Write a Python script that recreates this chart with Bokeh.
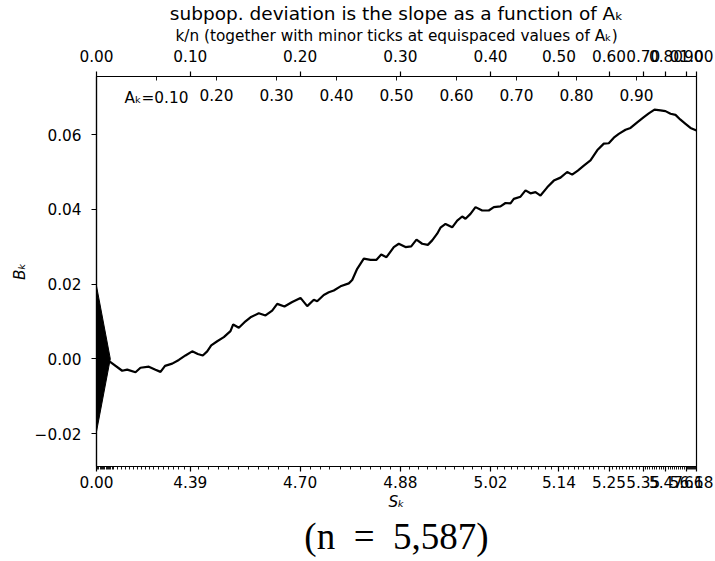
from bokeh.plotting import figure
from bokeh.models import Range1d, LinearAxis, FixedTicker, Title, CustomJSTickFormatter
from bokeh.core.properties import value
from bokeh.embed import file_html
from bokeh.resources import INLINE

# ---- data ----
# curve: A_k (abscissa) and B_k (ordinate)
curve_a = [0.0, 0.0233, 0.0428, 0.0512, 0.065, 0.0733, 0.0872, 0.0983, 0.1067, 0.1142,
           0.1262, 0.1372, 0.1483, 0.1595, 0.1688, 0.1772, 0.1845, 0.1912, 0.2012, 0.2122,
           0.2233, 0.2278, 0.2372, 0.2467, 0.2567, 0.2705, 0.2817, 0.2928, 0.3012, 0.3133,
           0.3262, 0.34, 0.3512, 0.3622, 0.3678, 0.3788, 0.3872, 0.3955, 0.4067, 0.4205,
           0.4262, 0.4345, 0.4455, 0.4567, 0.4667, 0.4745, 0.4833, 0.4955, 0.5038, 0.515,
           0.5245, 0.5333, 0.5428, 0.5522, 0.5595, 0.5678, 0.5733, 0.5817, 0.5928, 0.6012,
           0.6095, 0.615, 0.6233, 0.6317, 0.6428, 0.6538, 0.6622, 0.6733, 0.6817, 0.69,
           0.6955, 0.7067, 0.715, 0.7233, 0.7317, 0.74, 0.7512, 0.7622, 0.7733, 0.7845,
           0.7928, 0.8022, 0.8122, 0.8233, 0.8345, 0.8455, 0.8538, 0.8622, 0.8705, 0.8817,
           0.89, 0.9012, 0.9122, 0.9205, 0.93, 0.94, 0.9483, 0.9567, 0.965, 0.9733,
           0.9817, 0.99, 1.0]
curve_b = [0.0, -0.0009, -0.0032, -0.0029, -0.0036, -0.0024, -0.0021, -0.0029, -0.0035, -0.0019,
           -0.0013, -0.0003, 0.0009, 0.0020, 0.0013, 0.0009, 0.0020, 0.0036, 0.0047, 0.0058,
           0.0074, 0.0092, 0.0083, 0.0098, 0.0111, 0.0122, 0.0116, 0.0129, 0.0147, 0.0140,
           0.0152, 0.0163, 0.0141, 0.0158, 0.0154, 0.0171, 0.0178, 0.0183, 0.0194, 0.0202,
           0.0211, 0.0241, 0.0268, 0.0265, 0.0265, 0.0279, 0.0272, 0.0299, 0.0308, 0.0299,
           0.0301, 0.0319, 0.0308, 0.0305, 0.0317, 0.0335, 0.0351, 0.0361, 0.0352, 0.0370,
           0.0381, 0.0375, 0.0388, 0.0406, 0.0397, 0.0397, 0.0406, 0.0408, 0.0417, 0.0416,
           0.0428, 0.0434, 0.0451, 0.0443, 0.0446, 0.0437, 0.0459, 0.0477, 0.0485, 0.0500,
           0.0493, 0.0504, 0.0517, 0.0531, 0.0558, 0.0576, 0.0577, 0.0592, 0.0602, 0.0613,
           0.0618, 0.0633, 0.0647, 0.0657, 0.0667, 0.0665, 0.0663, 0.0656, 0.0653, 0.0640,
           0.0629, 0.0618, 0.0611]

# scale-indicator triangle
scale_half_height = 0.0195
scale_width = 0.023

# major ticks: A_k positions at k/n = 0, 0.1, ..., 1
major_a = [0.0, 0.1564, 0.3394, 0.5065, 0.6568, 0.7707, 0.8542, 0.9112, 0.9491, 0.9833, 1.0]
top_labels = ["0.00", "0.10", "0.20", "0.30", "0.40", "0.50", "0.60", "0.70", "0.80", "0.90", "1.00"]
bottom_labels = ["0.00", "4.39", "4.70", "4.88", "5.02", "5.14", "5.25", "5.35", "5.47", "5.66", "6.18"]

# minor ticks (top): equispaced A_k
equi_a = [0.1, 0.2, 0.3, 0.4, 0.5, 0.6, 0.7, 0.8, 0.9]
equi_labels = ["Aₖ=0.10", "0.20", "0.30", "0.40", "0.50", "0.60", "0.70", "0.80", "0.90"]

# minor ticks (bottom)
bottom_minor_a = [0.002, 0.004, 0.006, 0.008, 0.010, 0.012, 0.014, 0.016, 0.018, 0.020,
                  0.022, 0.024, 0.026, 0.028, 0.035, 0.041, 0.048, 0.055, 0.061, 0.068,
                  0.075, 0.081, 0.088, 0.095, 0.103, 0.112, 0.120, 0.128, 0.137, 0.147,
                  0.170, 0.187, 0.203, 0.220, 0.237, 0.253, 0.270, 0.287, 0.303, 0.320,
                  0.356, 0.373, 0.389, 0.406, 0.423, 0.440, 0.456, 0.473, 0.490,
                  0.521, 0.536, 0.551, 0.566, 0.581, 0.596, 0.611, 0.626, 0.641,
                  0.668, 0.680, 0.691, 0.702, 0.714, 0.725, 0.736, 0.748, 0.759,
                  0.779, 0.787, 0.796, 0.804, 0.812, 0.821, 0.829, 0.837, 0.846,
                  0.860, 0.866, 0.871, 0.877, 0.883, 0.888, 0.894, 0.900, 0.905,
                  0.915, 0.919, 0.922, 0.926, 0.930, 0.934, 0.938, 0.941, 0.945,
                  0.953, 0.956, 0.960, 0.963, 0.966, 0.970, 0.973, 0.976, 0.980,
                  0.985, 0.987, 0.988, 0.990, 0.992, 0.993, 0.995, 0.997, 0.998]

y_ticks = [-0.02, 0.0, 0.02, 0.04, 0.06]

title_text = "subpop. deviation is the slope as a function of Aₖ"
n_text = "(n\u2002=\u20025,587)"

FONT = "DejaVu Sans"
SERIF = "Liberation Serif"
TICK_FS = "15.3px"
Y_TOP = 0.07557
Y_BOT = -0.02883

p = figure(width=715, height=561, output_backend="svg", toolbar_location=None,
           x_range=Range1d(0, 1), y_range=Range1d(Y_BOT, Y_TOP),
           min_border_left=96, min_border_right=19, min_border_top=76, min_border_bottom=95)
p.title.text = title_text
p.title.align = "center"
p.title.text_font = FONT
p.title.text_font_size = "18.5px"
p.title.text_font_style = "normal"
p.title.text_color = "black"
p.title.standoff = 0
p.xgrid.visible = False
p.ygrid.visible = False
p.outline_line_color = "black"
p.outline_line_width = 1.2
p.background_fill_color = "white"
p.border_fill_color = "white"


def style_axis(ax):
    ax.axis_line_color = "black"
    ax.axis_line_width = 1.2
    ax.major_tick_line_color = "black"
    ax.minor_tick_line_color = "black"
    ax.major_tick_line_width = 1.2
    ax.minor_tick_line_width = 0.9
    ax.major_tick_in = 0
    ax.major_tick_out = 5
    ax.major_label_text_font = FONT
    ax.major_label_text_font_size = TICK_FS
    ax.major_label_text_color = "black"
    ax.axis_label_text_font = FONT
    ax.axis_label_text_font_size = TICK_FS
    ax.axis_label_text_font_style = "normal"
    ax.axis_label_text_color = "black"


fmt_code = """
let best = 0; let bd = 1e9;
for (let i = 0; i < ticks_ref.length; i++) {
  const d = Math.abs(ticks_ref[i] - tick);
  if (d < bd) { bd = d; best = i; }
}
return labels[best];
"""

# bottom axis
xb = p.xaxis[0]
style_axis(xb)
xb.ticker = FixedTicker(ticks=major_a, minor_ticks=bottom_minor_a)
xb.formatter = CustomJSTickFormatter(args=dict(ticks_ref=major_a, labels=bottom_labels), code=fmt_code)
xb.minor_tick_in = 0
xb.minor_tick_out = 3
xb.major_label_standoff = 4
xb.axis_label = "Sₖ"
xb.axis_label_text_font_style = "italic"
xb.axis_label_standoff = 2

# left axis
yl = p.yaxis[0]
style_axis(yl)
yl.ticker = FixedTicker(ticks=y_ticks, minor_ticks=[])
yl.formatter = CustomJSTickFormatter(code="return (tick < -1e-9 ? '\u2212' : '') + Math.abs(tick).toFixed(2);")
yl.axis_label = "Bₖ"
yl.axis_label_text_font_style = "italic"
yl.major_label_standoff = 10
yl.axis_label_standoff = 3

# top axis
xt = LinearAxis()
style_axis(xt)
xt.ticker = FixedTicker(ticks=major_a, minor_ticks=equi_a)
xt.formatter = CustomJSTickFormatter(args=dict(ticks_ref=major_a, labels=top_labels), code=fmt_code)
xt.minor_tick_in = 4
xt.minor_tick_out = 0
xt.major_label_standoff = 10
xt.axis_label = "k/n (together with minor ticks at equispaced values of Aₖ)"
xt.axis_label_standoff = 2
p.add_layout(xt, "above")

# (n = 5,587) below the bottom axis
p.add_layout(Title(text=n_text, align="center", text_font=SERIF, text_font_size="37px",
                   text_font_style="normal", text_color="black", standoff=0), "below")

# triangle + curve
p.patch(x=[0, scale_width, 0], y=[scale_half_height, 0, -scale_half_height],
        fill_color="black", line_color="black", line_width=1)
p.line(curve_a, curve_b, line_color="black", line_width=2.2)

# equispaced A_k labels inside the top
p.text(x=equi_a, y=[Y_TOP] * len(equi_a), text=equi_labels, text_align="center",
       text_baseline="top", y_offset=12, text_font=value(FONT), text_font_size=TICK_FS,
       text_color="black")

open("out.html", "w").write(file_html(p, INLINE))
